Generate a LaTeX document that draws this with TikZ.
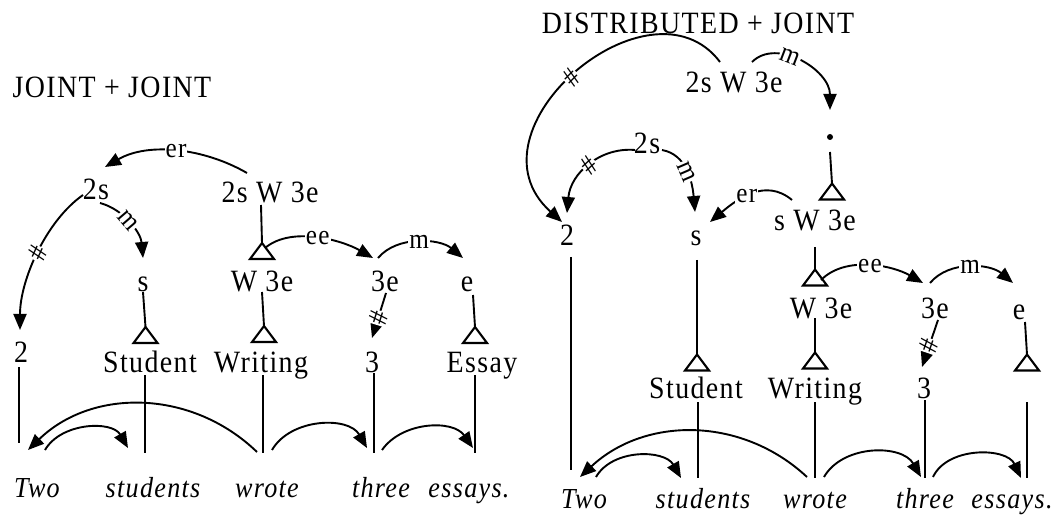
\documentclass[tikz,border=0pt]{standalone}
\usepackage{fontspec}
\setmainfont{Liberation Serif}[LetterSpace=4.5,FakeStretch=0.9]
\usetikzlibrary{arrows.meta,calc}
\newcommand\mytri[3]{\node[tribox] (#1) at (#2,#3) {}; \draw[triln] (#1.north) -- (#1.south east) -- (#1.south west) -- cycle;}
\begin{document}
\begin{tikzpicture}[x=1pt,y=1pt,
  txt/.style={font=\fontsize{31}{34}\selectfont, inner sep=0pt, text height=21pt, text depth=0.4pt},
  wd/.style={txt, font=\fontsize{29}{32}\selectfont\itshape},
  lab/.style={font=\fontsize{28}{30}\selectfont, fill=white, inner sep=1pt},
  ln/.style={line width=1.9pt},
  arr/.style={ln, -{Triangle[length=16pt,width=13pt]}},
  tribox/.style={minimum width=24pt, minimum height=16pt, inner sep=0pt, outer sep=0pt},
  triln/.style={line width=2.1pt, line join=miter}]
\path[use as bounding box] (0,0) rectangle (1060,-521);
% ---------------- Left: JOINT + JOINT
\node[txt] (hdrL) at (112,-87) {JOINT + JOINT};
\node[txt] (L2sW3e) at (270,-192) {2s W 3e};
\node[txt] (L2s) at (96,-189) {2s};
\node[txt] (Ls) at (143,-281) {s};
\node[txt] (L2) at (21,-352) {2};
\node[txt] (LStudent) at (150,-362) {Student};
\mytri{LtriS}{145.5}{-335}
\mytri{LtriW1}{262}{-251}
\node[txt] (LW3e) at (262,-281) {W 3e};
\mytri{LtriW2}{264}{-334}
\node[txt] (LWriting) at (261,-362) {Writing};
\node[txt] (L3e) at (385,-281) {3e};
\node[txt] (Le) at (467,-281) {e};
\mytri{LtriE}{475}{-335}
\node[txt] (LEssay) at (482,-362) {Essay};
\node[txt] (L3) at (372,-362) {3};
\node[wd] (LTwo) at (37,-487) {Two};
\node[wd] (Lstudents) at (153,-487) {students};
\node[wd] (Lwrote) at (267,-487) {wrote};
\node[wd] (Lthree) at (381,-487) {three};
\node[wd] (Lessays) at (469,-487) {essays.};
\draw[arr] ($(L2sW3e)+(-23,19)$) to[out=150,in=30,distance=50pt] node[lab]{er} ($(L2s)+(9,22)$);
\draw[arr] ($(L2s)+(4,-14)$) to[out=-15,in=95,out distance=25pt,in distance=25pt] node[lab,sloped,pos=.45]{m} ($(Ls)+(0,23)$);
\draw[arr] ($(L2s)+(-13,-6)$) to[out=215,in=90,out distance=45pt,in distance=50pt] node[lab,sloped]{\#} ($(L2)+(-1,22)$);
\draw[arr] ($(LtriW1)+(3,3)$) to[out=40,in=150,out distance=35pt,in distance=35pt] node[lab]{ee} ($(L3e)+(-12,23)$);
\draw[arr] ($(L3e)+(-7,23)$) to[out=50,in=140,distance=30pt] node[lab]{m} ($(Le)+(-4,23)$);
\draw[arr] ($(L3e)+(1,-12)$) -- node[lab,sloped,pos=.55]{\#} ($(L3)+(0,24)$);
\draw[arr] ($(Lwrote)+(-10,35)$) to[out=136,in=44,distance=90pt] ($(LTwo)+(-9,37)$);
\draw[arr] ($(LTwo)+(8,37)$) to[out=60,in=120,distance=32pt] ($(Lstudents)+(-25,39)$);
\draw[arr] ($(Lwrote)+(5,37)$) to[out=60,in=120,distance=37pt] ($(Lthree)+(-14,39)$);
\draw[arr] ($(Lthree)+(1,37)$) to[out=55,in=125,distance=35pt] ($(Lessays)+(4,39)$);
\draw[ln] ($(L2)+(-2,-15)$) -- ($(L2)+(-2,-91)$);
\draw[ln] ($(Ls)+(0,-11)$) -- (LtriS.north);
\draw[ln] ($(LStudent)+(-5,-13)$) -- ($(LStudent)+(-5,-91)$);
\draw[ln] ($(L2sW3e)+(-9,-13)$) -- (LtriW1.north);
\draw[ln] ($(LW3e)+(0,-11)$) -- (LtriW2.north);
\draw[ln] ($(LWriting)+(2,-13)$) -- ($(LWriting)+(2,-91)$);
\draw[ln] ($(L3)+(2,-11)$) -- ($(L3)+(2,-91)$);
\draw[ln] ($(Le)+(6,-14)$) -- (LtriE.north);
\draw[ln] ($(LEssay)+(-7,-13)$) -- ($(LEssay)+(-7,-91)$);
% ---------------- Right: DISTRIBUTED + JOINT
\node[txt] (hdrR) at (698,-23) {DISTRIBUTED + JOINT};
\node[txt] (R2sW3e) at (734,-82) {2s W 3e};
\node[circle,fill,inner sep=0pt,minimum size=6pt] (Rdot) at (830,-137) {};
\mytri{RtriTop}{832}{-191.5}
\node[txt] (RsW3e) at (815,-220) {s W 3e};
\node[txt] (R2s) at (647,-143) {2s};
\node[txt] (R2) at (567,-235) {2};
\node[txt] (Rs) at (696,-235) {s};
\mytri{RtriS}{697}{-362.5}
\node[txt] (RStudent) at (696,-388) {Student};
\mytri{RtriW1}{815}{-277.5}
\node[txt] (RW3e) at (821,-308) {W 3e};
\mytri{RtriW2}{815}{-360.5}
\node[txt] (RWriting) at (815,-388) {Writing};
\node[txt] (R3e) at (935,-308) {3e};
\node[txt] (Re) at (1019,-309) {e};
\mytri{RtriE}{1027}{-362.5}
\node[txt] (R3) at (924,-388) {3};
\node[wd] (RTwo) at (584,-498) {Two};
\node[wd] (Rstudents) at (703,-498) {students};
\node[wd] (Rwrote) at (815,-498) {wrote};
\node[wd] (Rthree) at (925,-498) {three};
\node[wd] (Ressays) at (1012,-498) {essays.};
\draw[arr] ($(R2sW3e)+(-14,20)$) to[out=127,in=138,out distance=116pt,in distance=137pt] node[lab,sloped,pos=.52]{\#} ($(R2)+(-5,13)$);
\draw[arr] ($(R2sW3e)+(18,20)$) to[out=45,in=90,out distance=35pt,in distance=40pt] node[lab,sloped,pos=.4]{m} ($(Rdot)+(0,27)$);
\draw[arr] ($(R2s)+(-12,-7)$) to[out=175,in=85,out distance=35pt,in distance=40pt] node[lab,sloped]{\#} ($(R2)+(0,22)$);
\draw[arr] ($(R2s)+(15,-7)$) to[out=-10,in=95,out distance=25pt,in distance=30pt] node[lab,sloped]{m} ($(Rs)+(-1,23)$);
\draw[arr] ($(RsW3e)+(-23,20)$) to[out=140,in=40,distance=35pt] node[lab,pos=.55]{er} ($(Rs)+(14,13)$);
\draw[arr] ($(RtriW1)+(6,-2.5)$) to[out=45,in=150,distance=35pt] node[lab]{ee} ($(R3e)+(-12,25)$);
\draw[arr] ($(R3e)+(-5,25)$) to[out=50,in=140,distance=30pt] node[lab]{m} ($(Re)+(-6,26)$);
\draw[arr] ($(R3e)+(3,-12)$) -- node[lab,sloped,pos=.55]{\#} ($(R3)+(-2,21)$);
\draw[arr] ($(Rwrote)+(-8,21)$) to[out=137,in=43,distance=89pt] ($(RTwo)+(-4,21)$);
\draw[arr] ($(RTwo)+(12,21)$) to[out=60,in=120,distance=33pt] ($(Rstudents)+(-22,20)$);
\draw[arr] ($(Rwrote)+(9,21)$) to[out=60,in=120,distance=38pt] ($(Rthree)+(-4,21)$);
\draw[arr] ($(Rthree)+(8,21)$) to[out=65,in=115,distance=34pt] ($(Ressays)+(9,20)$);
\draw[ln] ($(R2)+(4,-22)$) -- ($(R2)+(4,-235)$);
\draw[ln] ($(Rs)+(1,-25)$) -- (RtriS.north);
\draw[ln] ($(RStudent)+(2,-14)$) -- ($(RStudent)+(2,-90)$);
\draw[ln] ($(Rdot)+(0,-15)$) -- (RtriTop.north);
\draw[ln] ($(RsW3e)+(0,-27)$) -- (RtriW1.north);
\draw[ln] ($(RW3e)+(-6,-10)$) -- (RtriW2.north);
\draw[ln] ($(RWriting)+(0,-14)$) -- ($(RWriting)+(0,-90)$);
\draw[ln] ($(R3)+(1,-12)$) -- ($(R3)+(1,-90)$);
\draw[ln] ($(Re)+(6,-13)$) -- (RtriE.north);
\draw[ln] ($(RtriE)+(0,-39.5)$) -- ($(RtriE)+(0,-115.5)$);
\end{tikzpicture}
\end{document}
